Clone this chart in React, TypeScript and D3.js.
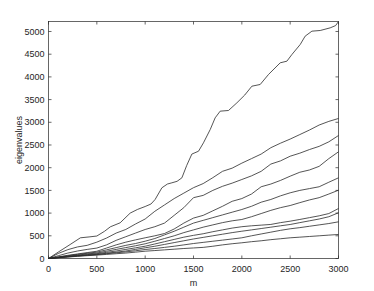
import React from "react";
import * as d3 from "d3";

// Grid of m values shared by the lower nine curves
const mGrid = [0,100,200,300,400,500,600,700,800,900,1000,1100,1200,1300,1400,1500,1600,1700,1800,1900,2000,2100,2200,2300,2400,2500,2600,2700,2800,2900,3000];

// Largest eigenvalue (own sampling)
const topM = [0,100,224,330,420,500,580,640,741,845,920,1000,1060,1103,1173,1230,1276,1330,1380,1430,1483,1552,1603,1673,1724,1776,1862,1949,2030,2104,2190,2276,2397,2466,2518,2604,2655,2725,2811,2914,2970,3000];
const topV = [0,140,308,456,475,495,600,698,786,1000,1080,1145,1200,1300,1557,1640,1667,1700,1777,2050,2300,2363,2548,2841,3098,3245,3260,3429,3600,3795,3833,4053,4310,4346,4493,4714,4897,5007,5022,5080,5130,5220];

const c2 = [0,110,195,255,290,360,450,560,640,760,870,1040,1180,1320,1440,1560,1650,1780,1920,1990,2100,2200,2300,2440,2540,2630,2730,2830,2940,3020,3084];
const c3 = [0,60,120,165,200,230,300,400,480,560,639,700,780,950,1120,1340,1390,1500,1590,1660,1740,1820,1920,2080,2150,2253,2320,2400,2470,2570,2709];
const c4 = [0,35,70,100,130,160,230,300,360,410,456,500,550,650,780,890,950,1050,1150,1260,1320,1420,1580,1640,1720,1813,1900,1950,2030,2200,2350];
const c5 = [0,30,60,90,115,140,190,240,290,330,381,440,520,600,690,780,840,900,960,1020,1079,1150,1240,1300,1380,1447,1500,1540,1580,1680,1777];
const c6 = [0,25,50,75,100,120,160,200,240,280,324,380,440,500,570,630,690,740,790,830,859,920,990,1060,1120,1167,1230,1290,1340,1420,1504];
const c7 = [0,22,45,65,85,105,135,165,200,235,271,320,370,420,470,510,545,590,630,670,700,720,735,750,790,822,860,900,940,990,1101];
const c8 = [0,20,40,58,75,92,115,140,165,200,236,270,310,350,390,430,465,500,535,570,601,630,660,690,720,749,790,830,870,920,1007];
const c9 = [0,18,36,54,70,85,105,125,145,170,198,220,245,270,300,330,355,380,405,430,456,500,540,580,620,654,680,710,740,770,808];
const c10 = [0,16,32,48,62,75,90,105,120,140,161,175,190,205,220,232,245,270,300,325,346,370,390,415,435,456,470,485,500,515,529];

const xTicks = [0,500,1000,1500,2000,2500,3000];
const yTicks = [0,500,1000,1500,2000,2500,3000,3500,4000,4500,5000];

const W = 374, H = 291;
const L = 48.5, R = 338.5, T = 21.5, B = 258.5;
const FONT = "'Liberation Sans', Arial, Helvetica, sans-serif";

export default function App() {
  const x = d3.scaleLinear().domain([0, 3000]).range([L, R]);
  const y = d3.scaleLinear().domain([0, 5220]).range([B, T]);
  const line = d3.line<[number, number]>().x(d => x(d[0])).y(d => y(d[1]));

  const series: [number, number][][] = [
    topM.map((m, i) => [m, topV[i]] as [number, number]),
    ...[c2, c3, c4, c5, c6, c7, c8, c9, c10].map(arr => mGrid.map((m, i) => [m, arr[i]] as [number, number])),
  ];

  const axisColor = "#262626";
  const tl = 3;

  return (
    <svg width={W} height={H} style={{ position: "absolute", left: 0, top: 0, background: "#fff" }}>
      <g fill="none" stroke="#2a2a2a" strokeWidth={0.8}>
        {series.map((s, i) => <path key={i} d={line(s) || ""} />)}
      </g>
      <rect x={L} y={T} width={R - L} height={B - T} fill="none" stroke={axisColor} strokeWidth={0.7} />
      <g stroke={axisColor} strokeWidth={0.7}>
        {xTicks.map(t => (
          <g key={"x" + t}>
            <line x1={x(t)} x2={x(t)} y1={B} y2={B - tl} />
            <line x1={x(t)} x2={x(t)} y1={T} y2={T + tl} />
          </g>
        ))}
        {yTicks.map(t => (
          <g key={"y" + t}>
            <line x1={L} x2={L + tl} y1={y(t)} y2={y(t)} />
            <line x1={R} x2={R - tl} y1={y(t)} y2={y(t)} />
          </g>
        ))}
      </g>
      <g fontFamily={FONT} fontSize={9} fill={axisColor}>
        {xTicks.map(t => (
          <text key={"xl" + t} x={x(t)} y={271.5} textAnchor="middle">{t}</text>
        ))}
        {yTicks.map(t => (
          <text key={"yl" + t} x={L - 4} y={y(t) + 3.2} textAnchor="end">{t}</text>
        ))}
        <text x={(L + R) / 2} y={286} textAnchor="middle">m</text>
        <text transform={`translate(22,${(T + B) / 2}) rotate(-90)`} textAnchor="middle">eigenvalues</text>
      </g>
    </svg>
  );
}
